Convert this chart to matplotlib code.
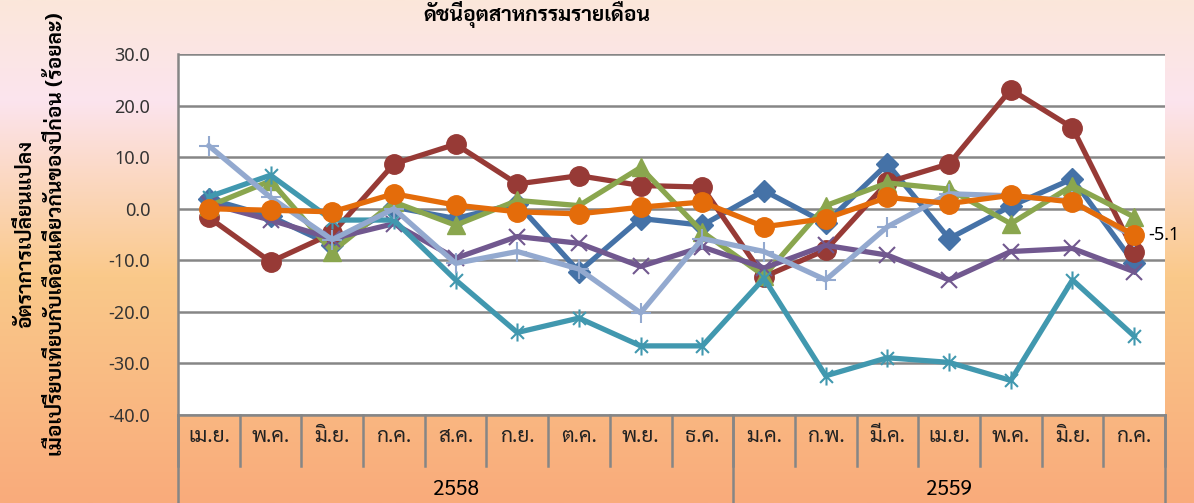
import numpy as np
import matplotlib
matplotlib.use("Agg")
import matplotlib.pyplot as plt
from matplotlib import font_manager
from matplotlib.ft2font import FT2Font
from matplotlib.path import Path
from matplotlib.colors import LinearSegmentedColormap

months = ['เม.ย.', 'พ.ค.', 'มิ.ย.', 'ก.ค.', 'ส.ค.', 'ก.ย.', 'ต.ค.', 'พ.ย.', 'ธ.ค.',
          'ม.ค.', 'ก.พ.', 'มี.ค.', 'เม.ย.', 'พ.ค.', 'มิ.ย.', 'ก.ค.']
years = ['2558', '2559']
year_counts = [9, 7]

s_blue = [1.9, -1.5, -7.1, 0.3, -1.9, 1.0, -12.2, -1.9, -3.2, 3.5, -2.8, 8.7, -5.8, 0.5, 5.8, -10.6]
s_red = [-1.7, -10.3, -4.8, 8.7, 12.5, 4.8, 6.4, 4.5, 4.2, -13.2, -8.0, 5.1, 8.7, 23.1, 15.7, -8.3]
s_green = [0.5, 5.4, -8.3, 1.3, -3.2, 1.6, 0.6, 8.0, -4.5, -13.0, 0.6, 5.0, 3.8, -2.9, 4.5, -1.6]
s_purple = [1.0, -2.2, -5.8, -2.9, -9.6, -5.4, -6.7, -11.2, -7.4, -11.5, -7.1, -9.0, -13.8, -8.3, -7.7, -12.2]
s_teal = [2.3, 6.5, -2.2, -2.2, -13.8, -24.0, -21.2, -26.6, -26.6, -13.5, -32.4, -28.9, -29.8, -33.3, -13.8, -24.7]
s_lblue = [12.2, 2.2, -6.0, 0.0, -10.6, -8.3, -11.7, -20.2, -5.8, -8.3, -13.8, -3.5, 2.9, 2.5, 1.5, -5.5]
s_orange = [0.0, -0.3, -0.6, 2.9, 0.7, -0.6, -1.0, 0.3, 1.3, -3.5, -1.9, 2.2, 1.0, 2.6, 1.3, -5.1]

# pick an installed font that has Thai glyphs
thai = set()
for f in font_manager.fontManager.ttflist:
    try:
        if FT2Font(f.fname).get_char_index(0x0E2D):
            thai.add(f.name)
    except Exception:
        pass
fam = 'DejaVu Sans'
for name in ['Sarabun', 'Niramit', 'Krub', 'Mitr'] + sorted(thai):
    if name in thai:
        fam = name
        break
plt.rcParams['font.family'] = [fam, 'DejaVu Sans']
num_font = ['Noto Sans', 'DejaVu Sans']

asterisk = Path([(-1, -1), (1, 1), (-1, 1), (1, -1), (0, -1.4), (0, 1.4)],
                [Path.MOVETO, Path.LINETO, Path.MOVETO, Path.LINETO, Path.MOVETO, Path.LINETO])

fig = plt.figure(figsize=(11.94, 5.03), dpi=100)

bg = fig.add_axes([0, 0, 1, 1], zorder=-10)
cmap = LinearSegmentedColormap.from_list('bg', [(0, '#fbe7da'), (0.2, '#fce4ee'),
                                                (0.55, '#fac98a'), (1, '#f9ab7b')])
bg.imshow(np.linspace(0, 1, 256).reshape(-1, 1), aspect='auto', cmap=cmap, extent=[0, 1, 0, 1])
bg.axis('off')

ax = fig.add_axes([178 / 1194, 88 / 503, 987 / 1194, 361 / 503])
ax.set_facecolor('white')
x = np.arange(len(months))

series = [
    (s_blue, '#4572a7', 'D', 11, {}),
    (s_red, '#973a36', 'o', 14, {}),
    (s_green, '#8aa64e', '^', 13, {}),
    (s_purple, '#71588f', 'x', 12, {'markeredgewidth': 1.5}),
    (s_teal, '#4198af', asterisk, 13, {'markeredgewidth': 1.5}),
    (s_lblue, '#93a9cf', '+', 15, {'markeredgewidth': 1.5}),
    (s_orange, '#e46c0a', 'o', 14, {}),
]
for i, (vals, col, mk, ms, kw) in enumerate(series):
    ax.plot(x, vals, color=col, lw=3.8, marker=mk, markersize=ms, zorder=3 + i, **kw)

ax.annotate('%.1f' % s_orange[-1], (x[-1], s_orange[-1]), xytext=(10, 0),
            textcoords='offset points', va='center', ha='left', fontsize=13,
            family=num_font, annotation_clip=False)

ax.set_xlim(-0.5, len(months) - 0.5)
ax.set_ylim(-40, 30)
ax.set_yticks(np.arange(-40, 31, 10))
ax.set_yticklabels(['%.1f' % v for v in np.arange(-40, 31, 10)], fontsize=13,
                   color='#333333', family=num_font)
ax.yaxis.grid(True, color='#868686', lw=1.8)
ax.set_axisbelow(True)
ax.tick_params(axis='y', length=0, pad=20)
ax.set_xticks(x)
ax.set_xticklabels(months, fontsize=15, color='#222222')
ax.tick_params(axis='x', length=0, pad=8)
for side in ['top', 'right']:
    ax.spines[side].set_visible(False)
for side in ['left', 'bottom']:
    ax.spines[side].set_color('#868686')
    ax.spines[side].set_linewidth(1.8)

# category separators under the plot
tr = ax.get_xaxis_transform()
for b in np.arange(len(months) + 1) - 0.5:
    ax.plot([b, b], [0, -0.14], transform=tr, color='#868686', lw=1.8, clip_on=False)
edges = np.concatenate([[0], np.cumsum(year_counts)]) - 0.5
for b in edges:
    ax.plot([b, b], [0, -0.3], transform=tr, color='#868686', lw=1.8, clip_on=False)
for yr, a, b in zip(years, edges[:-1], edges[1:]):
    ax.text((a + b) / 2, -0.205, yr, transform=tr, ha='center', va='center', fontsize=15)

fig.text(0.022, 0.535, 'อัตราการเปลี่ยนแปลง', rotation=90, ha='center', va='center',
         fontsize=15, fontweight='bold')
fig.text(0.047, 0.535, 'เมื่อเปรียบเทียบกับเดือนเดียวกันของปีก่อน (ร้อยละ)', rotation=90,
         ha='center', va='center', fontsize=15, fontweight='bold')
fig.text(0.45, 0.998, 'ดัชนีอุตสาหกรรมรายเดือน', ha='center', va='top',
         fontsize=15, fontweight='bold')

fig.savefig('out.png', dpi=100)
